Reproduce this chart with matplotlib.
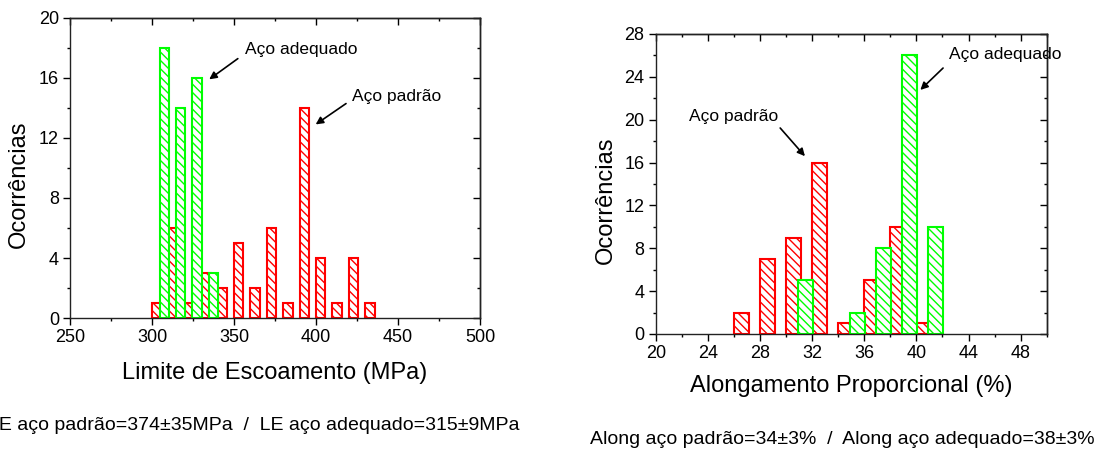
import numpy as np
import matplotlib
matplotlib.use("Agg")
import matplotlib.pyplot as plt
from matplotlib.ticker import MultipleLocator

plt.rcParams['font.family'] = ['Liberation Sans', 'DejaVu Sans']
plt.rcParams['hatch.linewidth'] = 1.0

# Limite de escoamento (MPa)
le_padrao_x = [300, 310, 320, 330, 340, 350, 360, 370, 380, 390, 400, 410, 420, 430]
le_padrao_n = [1, 6, 1, 3, 2, 5, 2, 6, 1, 14, 4, 1, 4, 1]
le_adeq_x = [304.6, 314.6, 324.6, 334.6]
le_adeq_n = [18, 14, 16, 3]

# Alongamento proporcional (%)
al_padrao_x = [26, 28, 30, 32, 34, 36, 38, 40]
al_padrao_n = [2, 7, 9, 16, 1, 5, 10, 1]
al_adeq_x = [30.9, 34.9, 36.9, 38.9, 40.9]
al_adeq_n = [5, 2, 8, 26, 10]

RED = '#ff0000'
GREEN = '#00ff00'
HATCH = '\\\\\\\\'


def style_axes(ax, xmaj, xmin, ymaj, ymin):
    ax.xaxis.set_major_locator(MultipleLocator(xmaj))
    ax.xaxis.set_minor_locator(MultipleLocator(xmin))
    ax.yaxis.set_major_locator(MultipleLocator(ymaj))
    ax.yaxis.set_minor_locator(MultipleLocator(ymin))
    ax.tick_params(which='major', direction='out', length=5, width=1, labelsize=13, pad=3)
    ax.tick_params(which='minor', direction='out', length=2.5, width=1)
    for s in ax.spines.values():
        s.set_linewidth(1)
        s.set_color('#222222')
    # mirrored ticks pointing inwards on top / right
    top = ax.secondary_xaxis('top')
    top.xaxis.set_major_locator(MultipleLocator(xmaj))
    top.xaxis.set_minor_locator(MultipleLocator(xmin))
    top.tick_params(which='major', direction='in', length=5, width=1, labeltop=False)
    top.tick_params(which='minor', direction='in', length=2.5, width=1)
    top.spines['top'].set_linewidth(1)
    right = ax.secondary_yaxis('right')
    right.yaxis.set_major_locator(MultipleLocator(ymaj))
    right.yaxis.set_minor_locator(MultipleLocator(ymin))
    right.tick_params(which='major', direction='in', length=5, width=1, labelright=False)
    right.tick_params(which='minor', direction='in', length=2.5, width=1)
    right.spines['right'].set_linewidth(1)


arrow = dict(arrowstyle='-|>', color='black', lw=1.2, mutation_scale=11)

fig = plt.figure(figsize=(11.08, 4.53), dpi=100)

# left panel
ax1 = fig.add_axes([0.0632, 0.298, 0.370, 0.6623])
ax1.bar(le_padrao_x, le_padrao_n, width=5.7, align='edge', facecolor='white',
        edgecolor=RED, linewidth=1.5, hatch=HATCH)
ax1.bar(le_adeq_x, le_adeq_n, width=5.8, align='edge', facecolor='white',
        edgecolor=GREEN, linewidth=1.5, hatch=HATCH)
ax1.set_xlim(250, 500)
ax1.set_ylim(0, 20)
style_axes(ax1, 50, 25, 4, 2)
ax1.set_xlabel('Limite de Escoamento (MPa)', fontsize=17)
ax1.set_ylabel('Ocorrências', fontsize=17)
ax1.xaxis.set_label_coords(0.5, -0.146)
ax1.yaxis.set_label_coords(-0.098, 0.445)
ax1.text(356.7, 17.87, 'Aço adequado', fontsize=12.5, va='center', ha='left')
ax1.annotate('', xy=(333.5, 15.8), xytext=(353.7, 17.4), arrowprops=arrow)
ax1.text(421.8, 14.75, 'Aço padrão', fontsize=12.5, va='center', ha='left')
ax1.annotate('', xy=(398.4, 12.8), xytext=(419.7, 14.4), arrowprops=arrow)

# right panel
ax2 = fig.add_axes([0.5918, 0.2627, 0.3529, 0.6623])
ax2.bar(al_padrao_x, al_padrao_n, width=1.12, align='edge', facecolor='white',
        edgecolor=RED, linewidth=1.5, hatch=HATCH)
ax2.bar(al_adeq_x, al_adeq_n, width=1.14, align='edge', facecolor='white',
        edgecolor=GREEN, linewidth=1.5, hatch=HATCH)
ax2.set_xlim(20, 50)
ax2.set_ylim(0, 28)
style_axes(ax2, 4, 2, 4, 2)
ax2.set_xlabel('Alongamento Proporcional (%)', fontsize=17)
ax2.set_ylabel('Ocorrências', fontsize=17)
ax2.xaxis.set_label_coords(0.5, -0.137)
ax2.yaxis.set_label_coords(-0.099, 0.445)
ax2.text(42.53, 26.05, 'Aço adequado', fontsize=12.5, va='center', ha='left', clip_on=False)
ax2.annotate('', xy=(40.15, 22.6), xytext=(42.2, 25.0), arrowprops=arrow)
ax2.text(22.58, 20.29, 'Aço padrão', fontsize=12.5, va='center', ha='left')
ax2.annotate('', xy=(31.59, 16.4), xytext=(29.41, 19.42), arrowprops=arrow)

# captions (the left one runs off the left edge in the original)
fig.text(-12 / 1108, 1 - 425 / 453, 'LE aço padrão=374±35MPa  /  LE aço adequado=315±9MPa',
         fontsize=14, ha='left', va='center')
fig.text(590 / 1108, 1 - 440 / 453, 'Along aço padrão=34±3%  /  Along aço adequado=38±3%',
         fontsize=14, ha='left', va='center')

fig.savefig('out.png', dpi=100)
